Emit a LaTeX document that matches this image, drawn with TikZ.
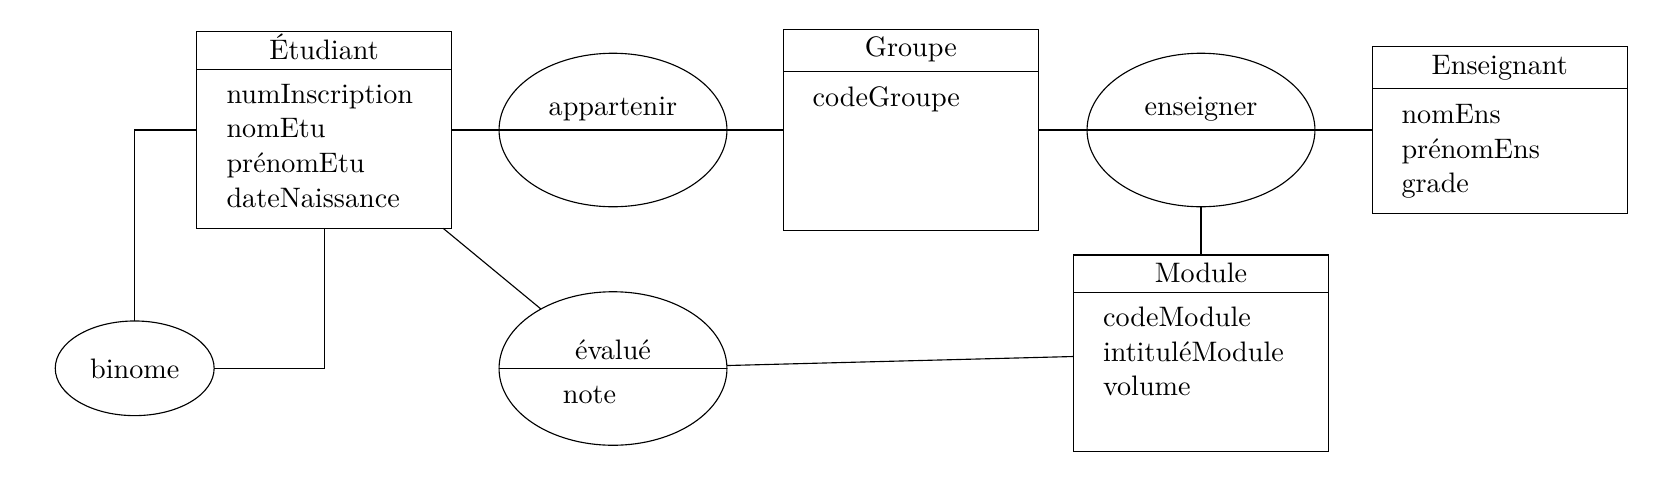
\documentclass[tikz,border=0pt]{standalone}
\usetikzlibrary{shapes.geometric,calc}
\begin{document}
\begin{tikzpicture}[x=0.355pt,y=-0.355pt,
  entity/.style={draw,rectangle,inner sep=0pt,outer sep=0pt,minimum width=90.5pt},
  relation/.style={draw,ellipse,inner sep=0pt,outer sep=0pt,minimum width=80.9pt,minimum height=54.5pt},
  title/.style={anchor=base,inner sep=0pt},
  attr/.style={anchor=base west,inner sep=0pt}]
\useasboundingbox (0,0) rectangle (1678,482);
% entities
\node[entity,minimum height=69.8pt] (etu) at (324.1,130) {};
\node[entity,minimum height=71.5pt] (grp) at (910.9,130) {};
\node[entity,minimum height=59.0pt] (ens) at (1499.7,130) {};
\node[entity,minimum height=69.7pt] (mod) at (1201,353.2) {};
% relations
\node[relation] (app) at (613,130) {};
\node[relation] (ensg) at (1201,130) {};
\node[relation] (ev) at (613,368.5) {};
\node[draw,ellipse,inner sep=0pt,outer sep=0pt,minimum width=56.4pt,minimum height=33.6pt] (bin) at (134.7,368.3) {};
% header lines
\draw ($(etu.north west)+(0,37.6)$) -- ($(etu.north east)+(0,37.6)$);
\draw ($(grp.north west)+(0,42.3)$) -- ($(grp.north east)+(0,42.3)$);
\draw ($(ens.north west)+(0,42)$) -- ($(ens.north east)+(0,42)$);
\draw ($(mod.north west)+(0,37.3)$) -- ($(mod.north east)+(0,37.3)$);
\draw (ev.west) -- (ev.east);
% connectors
\draw (etu.east) -- (grp.west);
\draw (grp.east) -- (ens.west);
\draw (ensg.south) -- (mod.north);
\draw (etu) -- (ev);
\draw (ev) -- (mod);
\draw (etu.west) -| (bin.north);
\draw (etu.south) |- (bin.east);
% texts
\node[title] (tetu) at (324.1,59.3) {Étudiant};
\node[attr] (a1) at (226,103) {numInscription};
\node[attr] (a2) at (226,137.8) {nomEtu};
\node[attr] (a3) at (226,172.6) {prénomEtu};
\node[attr] (a4) at (226,207.4) {dateNaissance};
\node[title] (tapp) at (613,115) {appartenir};
\node[title] (tgrp) at (910.9,56.7) {Groupe};
\node[attr] (g1) at (812,106) {codeGroupe};
\node[title] (tensg) at (1201,115) {enseigner};
\node[title] (tens) at (1499.7,74) {Enseignant};
\node[attr] (e1) at (1401,123.3) {nomEns};
\node[attr] (e2) at (1401,158.3) {prénomEns};
\node[attr] (e3) at (1401,192.7) {grade};
\node[title] (tmod) at (1201,282.7) {Module};
\node[attr] (m1) at (1102.5,326.7) {codeModule};
\node[attr] (m2) at (1102.5,361) {intituléModule};
\node[attr] (m3) at (1102.5,395.7) {volume};
\node[title] (tbin) at (134.7,378.3) {binome};
\node[title] (tev) at (613,359) {évalué};
\node[attr] (n1) at (562.4,403.3) {note};
\end{tikzpicture}
\end{document}
